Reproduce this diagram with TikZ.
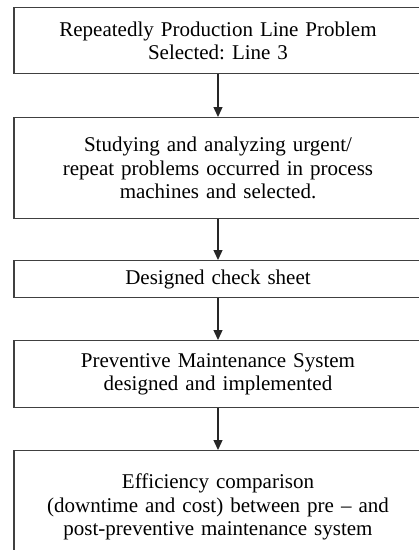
\documentclass[tikz,border=0pt]{standalone}
\usepackage{fontspec}
\setmainfont{Liberation Serif}
\usetikzlibrary{positioning,arrows.meta}

\begin{document}
\frenchspacing
\begin{tikzpicture}[x=1pt, y=-1pt,
        stepCard/.style={draw=black!75, line width=1.3pt, fill=white, align=center, text width=400pt, minimum width=408pt, inner sep=0pt, font=\fontsize{21}{23.5}\selectfont},
        arrowStyle/.style={-{Triangle[length=10pt, width=9pt]}, line width=1.3pt, draw=black!85}
    ]
        \useasboundingbox (0,0) rectangle (419,550);
        \clip (0,0) rectangle (419,550);

        % Selezione linea
        \node[stepCard, anchor=north, minimum height=66pt] (selLine) at (218, 7) {
            Repeatedly Production Line Problem\\
            Selected: Line 3
        };

        % Studio dei problemi
        \node[stepCard, anchor=north, minimum height=101pt] (studyProb) at (218, 117) {
            Studying and analyzing urgent/\\
            repeat problems occurred in process\\
            machines and selected.
        };

        % Check sheet
        \node[stepCard, anchor=north, minimum height=37pt] (checkSheet) at (218, 260) {
            Designed check sheet
        };

        % Sistema PM
        \node[stepCard, anchor=north, minimum height=67pt] (pmSystem) at (218, 340) {
            Preventive Maintenance System\\
            designed and implemented
        };

        % Confronto efficienza
        \node[stepCard, anchor=north, minimum height=113pt] (effCompare) at (218, 450) {
            Efficiency comparison\\
            (downtime and cost) between pre -- and\\
            post-preventive maintenance system
        };

        \draw[arrowStyle] (selLine.south) -- (studyProb.north);
        \draw[arrowStyle] (studyProb.south) -- (checkSheet.north);
        \draw[arrowStyle] (checkSheet.south) -- (pmSystem.north);
        \draw[arrowStyle] (pmSystem.south) -- (effCompare.north);
    \end{tikzpicture}
\end{document}
